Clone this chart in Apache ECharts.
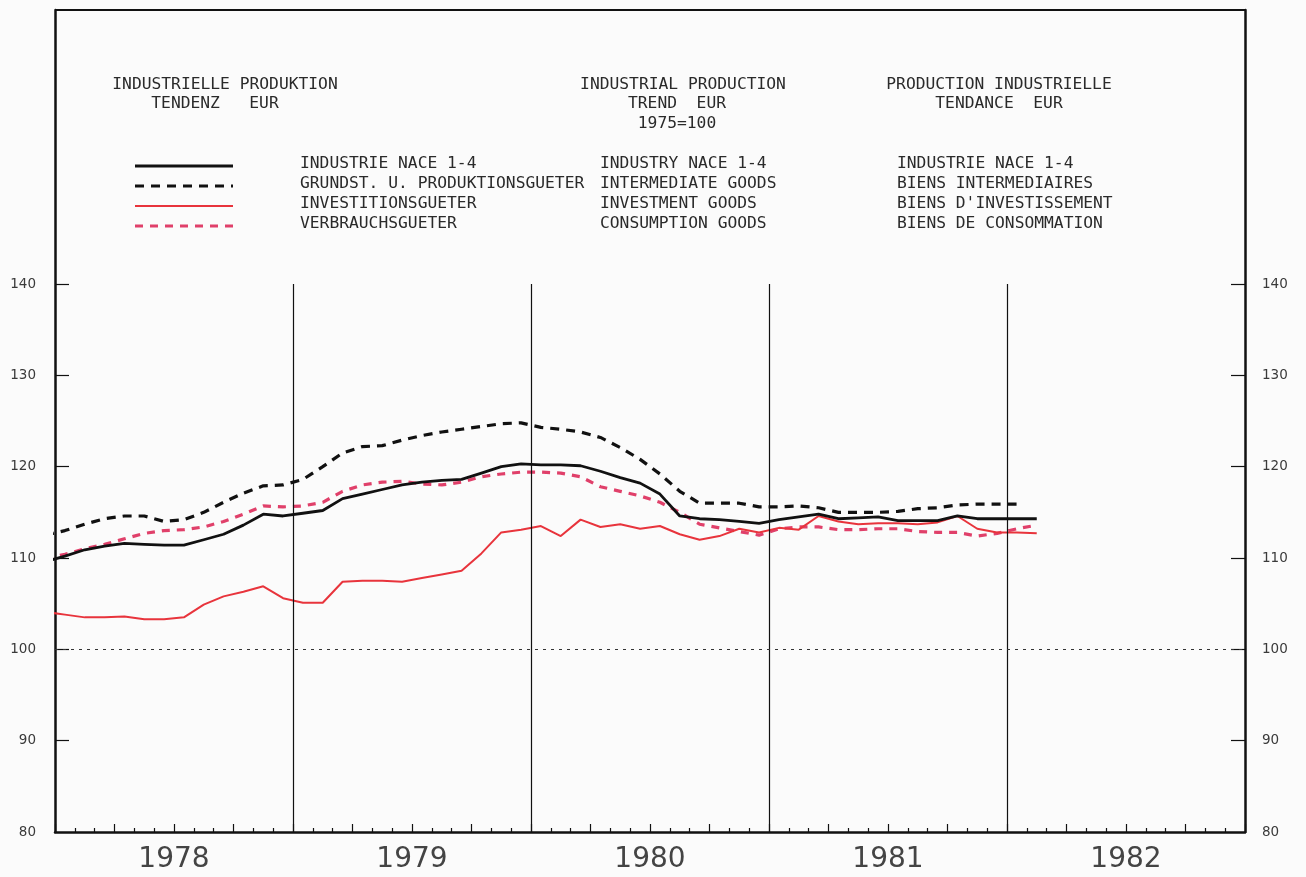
<!DOCTYPE html>
<html>
<head>
<meta charset="utf-8">
<script src="https://cdn.jsdelivr.net/npm/echarts@6/dist/echarts.min.js"></script>
<style>
html,body{margin:0;padding:0;background:#fbfbfb;}
#chart{width:1306px;height:877px;}
</style>
</head>
<body>
<div id="chart"></div>
<script>
// ---- data (monthly trend values, 1975=100) ----
const months = ['1977-12',
 '1978-01','1978-02','1978-03','1978-04','1978-05','1978-06','1978-07','1978-08','1978-09','1978-10','1978-11','1978-12',
 '1979-01','1979-02','1979-03','1979-04','1979-05','1979-06','1979-07','1979-08','1979-09','1979-10','1979-11','1979-12',
 '1980-01','1980-02','1980-03','1980-04','1980-05','1980-06','1980-07','1980-08','1980-09','1980-10','1980-11','1980-12',
 '1981-01','1981-02','1981-03','1981-04','1981-05','1981-06','1981-07','1981-08','1981-09','1981-10','1981-11','1981-12',
 '1982-01','1982-02'];

const industry = [109.6,
 110.2,110.9,111.3,111.6,111.5,111.4,111.4,112.0,112.6,113.6,114.8,114.6,
 114.9,115.2,116.5,117.0,117.5,118.0,118.3,118.5,118.6,119.3,120.0,120.3,
 120.2,120.2,120.1,119.5,118.8,118.2,117.0,114.6,114.3,114.2,114.0,113.8,
 114.2,114.5,114.8,114.3,114.4,114.5,114.1,114.1,114.1,114.6,114.3,114.3,
 114.3,114.3];

const intermediate = [112.5,
 113.0,113.7,114.3,114.6,114.6,114.0,114.2,115.0,116.1,117.1,117.9,118.0,
 118.6,120.0,121.5,122.2,122.3,122.9,123.4,123.8,124.1,124.4,124.7,124.8,
 124.3,124.1,123.8,123.2,122.1,120.8,119.2,117.3,116.0,116.0,116.0,115.6,
 115.6,115.7,115.5,115.0,115.0,115.0,115.1,115.4,115.5,115.8,115.9,115.9,
 115.9,null];

const investment = [104.1,
 103.8,103.5,103.5,103.6,103.3,103.3,103.5,104.9,105.8,106.3,106.9,105.6,
 105.1,105.1,107.4,107.5,107.5,107.4,107.8,108.2,108.6,110.5,112.8,113.1,
 113.5,112.4,114.2,113.4,113.7,113.2,113.5,112.6,112.0,112.4,113.2,112.8,
 113.3,113.1,114.6,114.0,113.7,113.8,113.8,113.7,113.9,114.6,113.2,112.8,
 112.8,112.7];

const consumption = [110.0,
 110.4,111.0,111.5,112.1,112.7,113.0,113.1,113.4,114.0,114.8,115.7,115.6,
 115.7,116.1,117.3,118.0,118.3,118.4,118.1,118.0,118.3,118.9,119.2,119.4,
 119.4,119.3,118.9,117.8,117.3,116.8,116.1,115.0,113.7,113.3,112.9,112.5,
 113.2,113.4,113.4,113.1,113.1,113.2,113.2,112.9,112.8,112.8,112.4,112.7,
 113.2,113.6];

const years = ['1978','1979','1980','1981','1982'];
const yTicks = [80,90,100,110,120,130,140];
const baseValue = 100;

// ---- helpers ----
const firstYear = +years[0];
function monthPos(key){ // mid-month position in months from Jan of first year
  const [y,m] = key.split('-').map(Number);
  return (y-firstYear)*12 + (m-1) + 0.5;
}
function pairs(vals){ return months.map((k,i)=>[monthPos(k), vals[i]]); }
const totalMonths = years.length*12;
const yearLabelPos = years.map((y,i)=>i*12+6);
const yearBounds = years.slice(1).map((y,i)=>(i+1)*12);
const yTop = Math.max(...yTicks), yBottom = Math.min(...yTicks);

const chart = echarts.init(document.getElementById('chart'), null, {renderer:'canvas'});

const mono = '"DejaVu Sans Mono", "Liberation Mono", monospace';
function txt(x, y, s, align){
  return {type:'text', x:x, y:y, style:{text:s, font:'16.3px '+mono, fill:'#2a2a2a', align:align||'left', verticalAlign:'middle'}, silent:true};
}
function legLine(y, color, dash, width){
  return {type:'line', shape:{x1:135,y1:y,x2:233,y2:y}, style:{stroke:color, lineWidth:width, lineDash:dash}, silent:true};
}

const seriesStyle = {
  industry:{color:'#111111', width:2.8, type:'solid'},
  intermediate:{color:'#111111', width:3.2, type:[9,7]},
  investment:{color:'#e8343c', width:2, type:'solid'},
  consumption:{color:'#e0406a', width:3.2, type:[8,7]}
};

const option = {
  backgroundColor:'#fbfbfb',
  animation:false,
  grid:{left:55, right:61, top:10, bottom:45, containLabel:false},
  xAxis:{
    type:'value', min:0, max:totalMonths, interval:3,
    axisLine:{show:true, onZero:false, lineStyle:{color:'#111', width:2.5}},
    axisTick:{show:true, inside:true, length:8, lineStyle:{color:'#111', width:1.2}},
    minorTick:{show:true, splitNumber:3, length:4, lineStyle:{color:'#111', width:1.2}},
    splitLine:{show:false},
    axisLabel:{show:true, customValues:yearLabelPos, margin:14,
      formatter:v=>years[Math.floor(v/12)],
      fontFamily:'"DejaVu Sans", sans-serif', fontSize:28, color:'#444'}
  },
  yAxis:[{
    type:'value', min:80, max:170, interval:10, position:'left',
    axisLine:{show:true, lineStyle:{color:'#111', width:2.5}},
    axisTick:{show:true, inside:true, length:14, customValues:yTicks.filter(v=>v>yBottom), lineStyle:{color:'#111', width:1.2}},
    axisLabel:{customValues:yTicks, margin:19, fontFamily:'"DejaVu Sans", sans-serif', fontSize:13.5, color:'#3a3a3a'},
    splitLine:{show:false}
  },{
    type:'value', min:80, max:170, interval:10, position:'right',
    axisLine:{show:true, lineStyle:{color:'#111', width:2.5}},
    axisTick:{show:true, inside:true, length:14, customValues:yTicks.filter(v=>v>yBottom), lineStyle:{color:'#111', width:1.2}},
    axisLabel:{customValues:yTicks, margin:17, fontFamily:'"DejaVu Sans", sans-serif', fontSize:13.5, color:'#3a3a3a'},
    splitLine:{show:false}
  }],
  series:[
    {name:'frame', type:'line', data:[], silent:true,
     markLine:{silent:true, symbol:'none', label:{show:false},
       lineStyle:{color:'#111', width:1.2, type:'solid'},
       data: yearBounds.map(b=>[{coord:[b,yTop]},{coord:[b,yBottom]}]).concat([
         [{coord:[0,baseValue], lineStyle:{type:[3,5], width:1, color:'#333'}},{coord:[totalMonths,baseValue]}]
       ])}
    },
    {name:'VERBRAUCHSGUETER', type:'line', data:pairs(consumption), symbol:'none', clip:true,
     lineStyle:seriesStyle.consumption, itemStyle:{color:seriesStyle.consumption.color}},
    {name:'INVESTITIONSGUETER', type:'line', data:pairs(investment), symbol:'none', clip:true,
     lineStyle:seriesStyle.investment, itemStyle:{color:seriesStyle.investment.color}},
    {name:'GRUNDST. U. PRODUKTIONSGUETER', type:'line', data:pairs(intermediate), symbol:'none', clip:true,
     lineStyle:seriesStyle.intermediate, itemStyle:{color:seriesStyle.intermediate.color}},
    {name:'INDUSTRIE NACE 1-4', type:'line', data:pairs(industry), symbol:'none', clip:true,
     lineStyle:seriesStyle.industry, itemStyle:{color:seriesStyle.industry.color}}
  ],
  graphic:[
    {type:'line', shape:{x1:55,y1:10,x2:1245,y2:10}, style:{stroke:'#111', lineWidth:2}, silent:true},
    txt(225,85,'INDUSTRIELLE PRODUKTION','center'),
    txt(215,104,'TENDENZ   EUR','center'),
    txt(683,85,'INDUSTRIAL PRODUCTION','center'),
    txt(677,104,'TREND  EUR','center'),
    txt(677,124,'1975=100','center'),
    txt(999,85,'PRODUCTION INDUSTRIELLE','center'),
    txt(999,104,'TENDANCE  EUR','center'),
    legLine(166,'#111',null,2.8),
    legLine(186,'#111',[9,7],3.2),
    legLine(206,'#e8343c',null,2),
    legLine(226,'#e0406a',[8,7],3.2),
    txt(300,164,'INDUSTRIE NACE 1-4'),
    txt(300,184,'GRUNDST. U. PRODUKTIONSGUETER'),
    txt(300,204,'INVESTITIONSGUETER'),
    txt(300,224,'VERBRAUCHSGUETER'),
    txt(600,164,'INDUSTRY NACE 1-4'),
    txt(600,184,'INTERMEDIATE GOODS'),
    txt(600,204,'INVESTMENT GOODS'),
    txt(600,224,'CONSUMPTION GOODS'),
    txt(897,164,'INDUSTRIE NACE 1-4'),
    txt(897,184,'BIENS INTERMEDIAIRES'),
    txt(897,204,"BIENS D'INVESTISSEMENT"),
    txt(897,224,'BIENS DE CONSOMMATION')
  ]
};
chart.setOption(option);
</script>
</body>
</html>
